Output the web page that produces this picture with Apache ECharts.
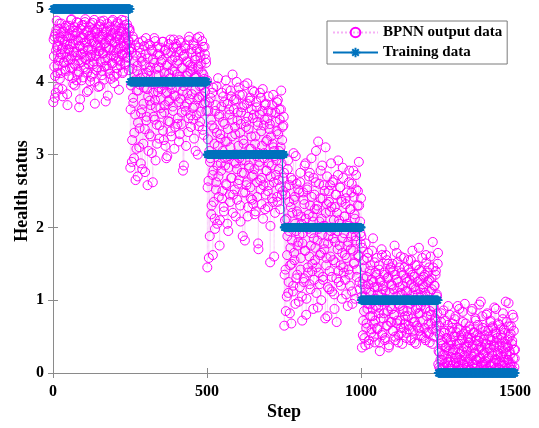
<!DOCTYPE html>
<html>
<head>
<meta charset="utf-8">
<script src="https://cdn.jsdelivr.net/npm/echarts@6/dist/echarts.min.js"></script>
<style>html,body{margin:0;padding:0;background:#fff;}#c{width:539px;height:428px;}</style>
</head>
<body>
<div id="c"></div>
<script>
// Training target levels (one per block of 250 steps)
const trainLevels = [5, 4, 3, 2, 1, 0];
const blockLength = 250;
const totalSteps = 1500;
const xTicks = [0, 500, 1000, 1500];
const yTicks = [0, 1, 2, 3, 4, 5];

// BPNN output values: "a" = odd steps, "b" = even steps, per block
const bpnn1a = [3.72,4.35,4.62,4.08,3.85,4.71,4.48,4.22,3.91,4.56,4.80,4.33,4.12,4.67,4.45,3.80,4.58,4.27,4.74,4.40,4.15,4.63,4.51,3.68,4.30,
4.77,4.44,4.19,4.60,4.85,4.36,4.05,4.52,4.70,4.25,3.95,4.66,4.41,4.82,4.10,4.57,4.29,3.65,4.49,4.73,4.38,4.02,4.61,4.46,4.78,
4.20,4.54,4.86,4.31,4.68,4.13,4.47,3.88,4.59,4.75,4.34,4.07,4.64,4.43,4.81,4.24,4.55,4.00,4.69,4.37,4.16,4.72,4.50,3.93,4.62,
4.42,4.79,4.28,4.58,4.09,4.65,4.39,4.84,4.21,4.53,3.73,4.47,4.70,4.32,4.18,4.61,4.76,4.44,4.04,4.57,4.83,4.26,4.67,4.35,3.98,
4.54,4.72,4.40,4.11,4.63,4.80,4.30,4.58,4.46,4.23,4.69,4.85,4.37,4.14,4.60,4.48,4.78,4.27,4.66,4.52,4.34,4.74,4.57,4.43,4.70];
const bpnn1b = [4.58,4.21,3.78,4.66,4.43,4.84,4.12,4.50,4.29,4.73,4.04,4.61,4.38,4.80,3.90,4.47,4.69,4.26,4.55,4.17,4.77,4.34,3.83,4.62,4.45,
4.08,4.71,4.52,4.31,4.86,4.19,4.64,3.97,4.41,4.75,4.23,4.57,4.02,4.68,4.36,4.81,4.14,4.49,3.76,4.60,4.27,4.78,4.40,4.06,4.65,
4.33,4.82,4.18,4.54,3.86,4.70,4.44,4.24,4.63,4.01,4.79,4.37,4.56,4.10,4.72,4.28,4.85,3.70,4.51,4.35,4.67,4.20,4.59,4.42,4.76,
3.94,4.48,4.83,4.15,4.62,4.39,4.74,4.03,4.53,4.30,4.68,4.22,4.80,3.81,4.46,4.58,4.11,4.71,4.36,4.64,4.25,4.85,4.43,4.07,4.55,
4.77,4.32,4.60,4.19,4.82,4.45,3.89,4.66,4.28,4.53,4.74,4.38,4.12,4.69,4.50,4.84,4.24,4.61,4.40,4.79,4.33,4.56,4.16,4.73,4.47];
const bpnn2a = [2.82,3.95,4.41,3.20,4.62,3.71,2.95,4.28,3.55,4.50,3.08,4.15,2.70,3.88,4.47,3.36,4.05,2.88,4.33,3.62,4.56,3.15,3.92,4.24,2.76,
4.38,3.47,4.12,2.58,3.80,4.52,3.28,4.20,3.68,4.44,3.02,3.97,4.31,3.52,4.60,3.75,2.92,4.18,3.41,4.48,3.86,4.09,3.22,4.36,3.64,
4.27,3.90,4.55,3.33,4.02,3.58,4.43,3.12,3.84,4.22,2.98,4.39,3.73,4.11,3.45,4.58,3.96,3.25,4.30,3.66,4.47,3.81,4.14,3.38,4.52,
3.93,4.25,3.50,4.41,3.18,4.07,3.77,4.54,3.42,4.19,3.87,4.35,2.85,4.00,4.46,3.60,4.28,3.70,4.12,3.31,4.57,3.99,4.23,3.54,4.40,
3.83,4.16,3.48,4.50,3.67,4.30,3.05,4.08,4.45,3.76,4.21,3.39,4.62,3.94,4.34,3.59,4.13,3.80,4.48,3.27,4.04,4.38,3.72,4.26,3.98];
const bpnn2b = [3.62,4.45,2.90,4.18,3.78,4.58,3.30,4.02,2.65,4.36,3.88,4.22,3.44,4.54,3.10,3.96,4.40,3.57,4.28,2.80,4.11,3.70,4.49,3.35,4.06,
4.60,3.52,3.90,4.32,3.05,4.15,3.74,4.50,3.25,4.00,4.42,2.62,3.85,4.26,3.48,4.56,3.65,4.09,3.15,4.38,3.92,4.20,3.40,4.47,3.78,
3.56,4.30,3.98,4.55,3.20,4.12,3.68,4.44,2.95,3.86,4.24,3.46,4.52,3.75,4.05,3.32,4.40,3.90,4.16,3.60,4.58,3.08,4.34,3.80,4.48,
4.10,3.42,4.29,3.72,4.57,3.28,4.03,4.43,3.58,4.19,2.78,3.94,4.37,3.66,4.50,3.12,4.08,3.84,4.27,3.50,4.62,3.76,4.14,3.38,4.45,
4.21,3.64,4.53,3.22,4.06,3.89,4.35,3.54,4.60,3.00,4.17,3.79,4.41,3.45,4.25,3.95,4.56,3.34,4.10,3.70,4.48,3.86,4.31,3.60,4.02];
const bpnn3a = [1.45,3.21,2.64,3.72,1.88,2.95,3.48,2.30,3.85,1.62,2.78,3.36,2.12,3.60,2.52,3.94,2.05,3.12,2.70,3.52,1.75,3.28,2.88,3.66,2.40,
3.05,3.80,2.22,3.42,2.85,4.02,2.58,3.18,3.70,1.95,2.98,3.55,2.35,3.88,2.68,3.25,4.10,2.45,3.62,2.90,3.38,2.15,3.76,2.80,3.47,
2.60,3.92,2.95,3.30,2.08,3.58,2.75,3.82,2.48,3.15,3.68,1.82,2.92,3.45,2.62,3.98,2.28,3.35,2.82,3.74,2.55,3.08,3.62,2.38,3.50,
2.72,3.86,2.18,3.25,2.98,3.65,2.42,3.40,1.70,2.85,3.55,2.65,3.78,2.32,3.12,3.90,2.58,3.02,3.48,2.25,3.70,2.78,3.20,2.50,3.60,
2.88,3.35,1.52,2.70,3.58,2.40,3.15,3.82,2.62,3.05,2.20,3.45,2.92,3.72,2.35,3.28,2.80,3.62,2.55,3.10,3.88,2.45,3.38,2.68,3.52];
const bpnn3b = [2.55,3.60,1.58,3.05,2.90,3.78,2.18,3.40,2.72,3.92,2.35,3.15,1.98,3.68,2.62,3.30,2.85,4.05,2.42,3.55,2.10,3.22,2.78,3.85,2.50,
3.45,2.28,3.72,2.95,3.18,2.60,3.90,2.05,3.35,2.82,3.62,2.45,3.10,3.80,2.68,3.48,2.20,3.00,3.75,2.52,3.28,2.88,4.00,2.38,3.58,
3.12,2.65,3.82,2.30,3.42,2.92,3.65,1.88,3.20,2.75,3.95,2.48,3.38,2.58,3.70,2.15,3.52,2.85,3.08,3.78,2.40,3.25,2.70,3.88,2.32,
3.55,2.80,3.15,2.22,3.72,2.62,3.45,1.78,3.02,2.90,3.85,2.52,3.32,2.68,3.60,2.12,3.40,2.95,3.68,2.45,3.18,2.78,3.50,2.28,3.80,
2.58,3.42,2.02,3.25,2.85,3.68,2.35,3.10,1.60,2.98,3.58,2.72,3.32,2.42,3.75,2.65,3.05,3.48,2.25,3.62,2.88,3.20,2.50,3.40,2.75];
const bpnn4a = [0.65,2.10,1.42,2.55,1.05,1.88,2.92,1.25,2.35,0.82,1.72,2.68,1.50,2.20,1.12,3.02,1.65,2.42,0.95,1.95,2.60,1.35,2.18,1.80,2.48,
1.18,2.75,1.58,2.05,0.72,1.92,2.38,1.30,2.85,1.68,2.12,1.02,2.52,1.45,1.98,2.70,1.22,2.30,1.75,2.95,1.40,2.15,0.88,1.85,2.45,
1.55,2.62,1.10,2.25,1.82,3.18,1.38,2.08,1.62,2.78,1.00,1.90,2.40,1.28,2.58,1.70,2.02,3.10,1.48,2.32,0.78,1.78,2.50,1.15,2.22,
1.60,2.88,1.32,2.00,1.85,2.65,1.08,2.28,1.52,2.45,0.70,1.95,2.72,1.40,2.10,1.75,2.55,1.20,2.35,1.65,2.82,1.45,1.92,2.15,1.28,
2.40,1.58,2.05,0.92,1.80,2.62,1.35,2.25,1.70,2.48,1.12,1.98,2.78,1.50,2.18,1.02,1.88,2.52,1.42,2.30,1.62,2.90,1.25,2.08,1.78];
const bpnn4b = [1.35,2.45,0.85,2.12,1.62,2.80,1.10,1.95,2.58,1.48,2.28,0.68,1.82,2.65,1.20,2.38,1.55,2.05,2.98,1.30,2.22,1.75,2.52,0.98,1.90,
2.62,1.42,2.15,1.05,1.78,2.48,1.25,2.32,1.68,2.88,0.80,2.00,2.55,1.38,2.18,1.60,2.75,1.15,1.92,2.42,1.50,2.08,2.68,1.28,2.25,
1.72,3.05,1.45,2.30,0.90,1.98,2.60,1.22,2.40,1.65,2.12,2.85,1.32,2.02,1.78,2.50,0.75,2.20,1.58,2.70,1.18,1.88,2.35,1.40,2.58,
1.95,2.28,1.12,2.62,1.55,2.10,0.88,1.80,2.45,1.30,2.20,1.70,2.92,1.25,2.05,2.55,1.48,2.38,1.02,1.85,2.68,1.38,2.15,1.62,2.32,
1.08,2.48,1.75,2.02,1.42,2.78,1.20,2.25,1.88,2.60,0.95,1.68,2.42,1.52,2.12,1.82,2.72,1.32,2.00,2.50,1.60,2.30,1.15,1.92,2.40];
const bpnn5a = [1.88,0.35,1.22,0.72,1.55,0.48,1.05,1.78,0.62,1.32,0.88,1.65,0.40,1.12,0.95,1.48,0.55,1.28,0.78,1.85,0.68,1.18,0.42,1.38,0.92,
1.58,0.60,1.08,0.82,1.42,0.30,1.25,0.98,1.70,0.52,1.15,0.75,1.35,0.45,1.02,1.62,0.65,1.30,0.85,1.50,0.38,1.10,0.92,1.45,0.70,
1.20,0.58,1.40,0.80,1.75,0.50,1.00,1.28,0.68,1.52,0.42,0.95,1.18,0.72,1.60,0.55,1.08,0.88,1.35,0.62,1.45,0.78,1.12,0.48,1.25,
0.85,1.55,0.65,1.02,1.38,0.45,1.22,0.75,1.68,0.58,0.98,1.32,0.70,1.15,0.40,1.48,0.90,1.08,0.62,1.42,0.82,1.28,0.52,1.05,1.58,
0.72,1.18,0.48,1.35,0.88,1.62,0.55,1.00,1.25,0.68,1.45,0.42,1.12,0.80,1.30,0.60,1.80,0.92,0.50,1.20,0.75,1.40,0.65,1.05,1.50];
const bpnn5b = [1.05,1.72,0.52,1.30,0.85,1.45,0.38,1.15,0.68,1.58,0.95,1.22,0.45,1.40,0.78,1.10,0.60,1.68,0.88,1.25,0.50,1.52,0.72,1.02,1.35,
0.62,1.18,0.90,1.48,0.42,1.28,0.75,1.08,1.62,0.55,1.20,0.82,1.38,0.48,1.12,0.98,1.55,0.65,1.32,0.35,1.00,1.42,0.70,1.22,0.88,
1.50,0.58,1.15,0.80,1.35,0.45,1.05,1.65,0.72,1.25,0.52,1.45,0.92,1.10,0.62,1.38,0.40,1.20,0.85,1.58,0.68,1.02,1.30,0.55,1.12,
0.78,1.42,0.60,1.28,0.95,1.55,0.48,1.08,1.35,0.70,1.18,0.42,1.48,0.88,1.00,0.65,1.25,0.82,1.72,0.58,1.15,0.92,1.40,0.50,1.22,
0.98,1.32,0.62,1.10,0.45,1.52,0.78,1.05,1.38,0.55,1.28,0.85,1.60,0.68,1.15,0.40,1.45,0.90,1.20,0.72,1.35,0.58,1.08,0.82,1.65];
const bpnn6a = [0.12,0.65,0.28,0.05,0.45,0.82,0.18,0.38,0.08,0.55,0.25,0.72,0.02,0.35,0.48,0.15,0.92,0.30,0.06,0.58,0.22,0.42,0.10,0.68,0.32,
0.04,0.50,0.20,0.78,0.14,0.40,0.62,0.08,0.33,0.88,0.26,0.03,0.52,0.17,0.45,0.70,0.11,0.36,0.95,0.22,0.58,0.07,0.30,0.48,0.15,
0.42,0.05,0.60,0.24,0.85,0.12,0.38,0.02,0.55,0.28,0.75,0.18,0.45,0.09,0.66,0.32,0.04,0.50,0.20,0.98,0.36,0.13,0.62,0.26,0.08,
0.52,0.16,0.40,0.80,0.06,0.34,0.58,0.21,0.03,0.46,0.72,0.11,0.28,0.64,0.02,0.38,0.90,0.19,0.54,0.07,0.42,0.25,0.68,0.14,0.35,
0.05,0.60,0.22,0.48,0.10,0.82,0.30,0.15,0.55,0.02,0.40,0.70,0.18,0.36,0.96,0.08,0.50,0.26,0.64,0.12,0.44,0.04,0.76,0.32,0.20];
const bpnn6b = [0.30,0.08,0.52,0.18,0.70,0.04,0.42,0.25,0.86,0.12,0.58,0.35,0.02,0.48,0.20,0.66,0.10,0.38,0.80,0.15,0.45,0.06,0.62,0.28,0.50,
0.14,0.74,0.32,0.03,0.56,0.22,0.92,0.10,0.40,0.60,0.18,0.05,0.46,0.30,0.84,0.12,0.54,0.24,0.02,0.68,0.36,0.16,0.50,0.08,0.42,
0.64,0.20,0.04,0.48,0.34,0.88,0.12,0.56,0.26,0.06,0.72,0.38,0.18,0.52,0.02,0.44,0.94,0.22,0.60,0.10,0.32,0.78,0.15,0.46,0.05,
0.28,0.58,0.12,0.40,0.82,0.20,0.03,0.50,0.34,0.70,0.09,0.44,0.24,0.62,0.14,0.36,0.05,0.56,0.88,0.18,0.48,0.28,0.07,0.66,0.38,
0.16,0.52,0.02,0.42,0.74,0.22,0.60,0.10,0.35,0.98,0.26,0.06,0.46,0.18,0.64,0.30,0.12,0.54,0.04,0.40,0.80,0.20,0.58,0.08,0.32];
const bpnnBlocks = [[bpnn1a, bpnn1b], [bpnn2a, bpnn2b], [bpnn3a, bpnn3b], [bpnn4a, bpnn4b], [bpnn5a, bpnn5b], [bpnn6a, bpnn6b]];

// Build series data (interleave odd/even steps within each block)
const bpnnData = [];
bpnnBlocks.forEach(([a, b], k) => {
  const merged = [];
  const n = Math.max(a.length, b.length);
  for (let i = 0; i < n; i++) {
    if (i < a.length) merged.push(a[i]);
    if (i < b.length) merged.push(b[i]);
  }
  const stepSize = blockLength / merged.length;
  merged.forEach((v, i) => bpnnData.push([k * blockLength + i * stepSize + 1, v]));
});
const trainData = [];
for (let s = 1; s <= totalSteps; s++) {
  trainData.push([s, trainLevels[Math.min(trainLevels.length - 1, Math.floor((s - 1) / blockLength))]]);
}

const serif = '"Liberation Serif","Times New Roman",serif';
const axisGrey = '#8a8a8a';
const asterisk = 'path://M5,0L5,10M0,5L10,5M1.6,1.6L8.4,8.4M1.6,8.4L8.4,1.6';

const chart = echarts.init(document.getElementById('c'), null, {renderer: 'canvas'});
chart.setOption({
  animation: false,
  backgroundColor: '#fff',
  grid: {left: 53, right: 24, top: 9, bottom: 55, containLabel: false},
  legend: {
    orient: 'vertical',
    left: 327, top: 21,
    padding: [4, 5, 4, 5],
    itemGap: 5,
    itemWidth: 45, itemHeight: 12,
    backgroundColor: '#fff',
    borderColor: '#7a7a7a', borderWidth: 1,
    textStyle: {fontFamily: serif, fontWeight: 'bold', fontSize: 15, color: '#000'},
    data: ['BPNN output data', 'Training data']
  },
  xAxis: [{
    type: 'value', min: 0, max: 1500, interval: 500,
    name: 'Step', nameLocation: 'middle', nameGap: 30, nameMoveOverlap: false,
    nameTextStyle: {fontFamily: serif, fontWeight: 'bold', fontSize: 18, color: '#000'},
    axisLine: {lineStyle: {color: axisGrey, width: 1}},
    axisTick: {inside: true, length: 5, lineStyle: {color: axisGrey}},
    axisLabel: {fontFamily: serif, fontWeight: 'bold', fontSize: 16, color: '#000', margin: 11,
      formatter: v => xTicks.includes(v) ? String(v) : ''},
    splitLine: {show: false}
  }, {
    type: 'value', min: 0, max: 1500, interval: 500, position: 'top',
    axisLine: {show: true, lineStyle: {color: axisGrey}},
    axisTick: {inside: true, length: 5, lineStyle: {color: axisGrey}},
    axisLabel: {show: false}, splitLine: {show: false}
  }],
  yAxis: [{
    type: 'value', min: 0, max: 5, interval: 1,
    name: 'Health status', nameLocation: 'middle', nameGap: 22, nameRotate: 90, nameMoveOverlap: false,
    nameTextStyle: {fontFamily: serif, fontWeight: 'bold', fontSize: 18, color: '#000'},
    axisLine: {show: true, lineStyle: {color: axisGrey, width: 1}},
    axisTick: {show: true, inside: true, length: 5, lineStyle: {color: axisGrey}},
    axisLabel: {fontFamily: serif, fontWeight: 'bold', fontSize: 16, color: '#000', margin: 9,
      formatter: v => yTicks.includes(v) ? String(v) : ''},
    splitLine: {show: false}
  }, {
    type: 'value', min: 0, max: 5, interval: 1, position: 'right',
    axisLine: {show: true, lineStyle: {color: axisGrey}},
    axisTick: {show: true, inside: true, length: 5, lineStyle: {color: axisGrey}},
    axisLabel: {show: false}, splitLine: {show: false}
  }],
  series: [{
    name: 'BPNN output data',
    type: 'line',
    data: bpnnData,
    symbol: 'circle',
    symbolSize: 9,
    showAllSymbol: true,
    clip: false,
    itemStyle: {color: 'rgba(255,0,255,0)', borderColor: '#ff00ff', borderWidth: 1},
    lineStyle: {color: '#f29cf2', width: 0.6, type: 'dotted', opacity: 0.8},
    z: 2
  }, {
    name: 'Training data',
    type: 'line',
    data: trainData,
    symbol: asterisk,
    symbolSize: 9,
    showAllSymbol: true,
    clip: false,
    itemStyle: {color: '#0072BD', borderColor: '#0072BD', borderWidth: 1.6},
    lineStyle: {color: '#0072BD', width: 1},
    z: 3
  }]
});
</script>
</body>
</html>
